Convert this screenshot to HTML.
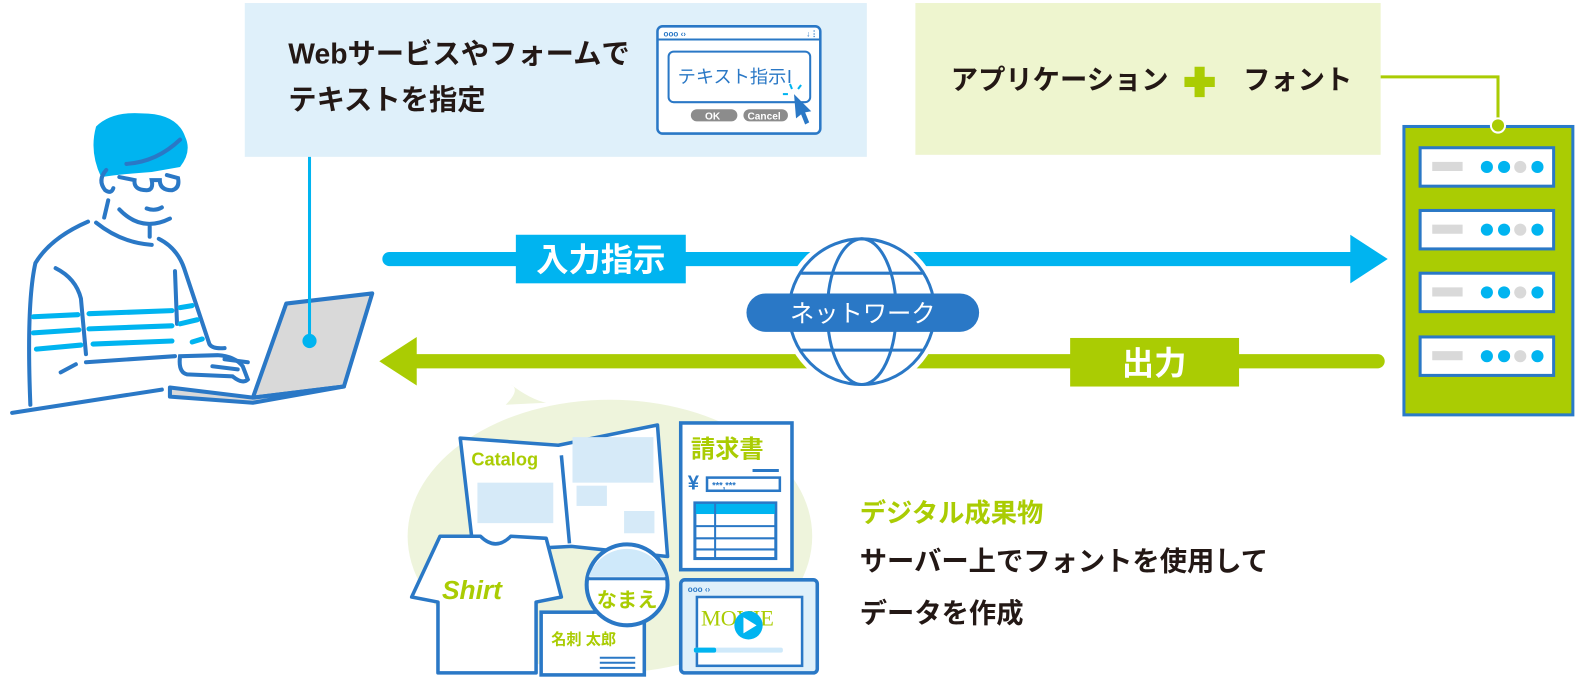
<!DOCTYPE html>
<html><head><meta charset="utf-8"><style>
body{margin:0;background:#fff;}
svg{display:block}
text{font-family:"Liberation Sans","Noto Sans CJK JP",sans-serif;font-weight:bold}
</style></head><body>
<svg width="1586" height="682" viewBox="0 0 1568 674" preserveAspectRatio="none" xmlns="http://www.w3.org/2000/svg">
<!-- top boxes -->
<rect x="242" y="3" width="615" height="152" fill="#dff0fa"/>
<text x="285" y="63" font-size="28" fill="#231815">Webサービスやフォームで</text>
<text x="285" y="108" font-size="28" fill="#231815">テキストを指定</text>
<!-- browser window -->
<rect x="650" y="26" width="161" height="106" rx="5" fill="#fff" stroke="#2a78c6" stroke-width="2.5"/>
<line x1="650" y1="39" x2="811" y2="39" stroke="#2a78c6" stroke-width="2"/>
<text x="656" y="36" font-size="8" fill="#2a78c6">ooo ‹›</text>
<text x="797" y="36" font-size="8" fill="#2a78c6">↓⋮</text>
<rect x="661" y="51" width="140" height="50" rx="5" fill="#fff" stroke="#2a78c6" stroke-width="2"/>
<text x="670" y="82" font-size="18" fill="#2a78c6" style="font-weight:normal">テキスト指示</text>
<text x="778" y="82" font-size="18" fill="#2a78c6" style="font-weight:normal">I</text>
<rect x="683" y="108" width="46" height="12" rx="6" fill="#8c8c8c"/>
<text x="697" y="118" font-size="10" fill="#fff">OK</text>
<rect x="735" y="108" width="44" height="12" rx="6" fill="#8c8c8c"/>
<text x="739" y="118" font-size="10" fill="#fff">Cancel</text>
<path d="M785 93 L802 110 L796 111 L800 121 L796 123 L792 113 L787 117 Z" fill="#2a78c6"/>
<g stroke="#00b4f0" stroke-width="2"><line x1="783" y1="88" x2="781" y2="83"/><line x1="789" y1="88" x2="792" y2="84"/><line x1="779" y1="93" x2="774" y2="93"/></g>

<rect x="905" y="3" width="460" height="150" fill="#eef5cf"/>
<text x="940" y="88" font-size="27" fill="#231815">アプリケーション</text>
<path d="M1181 66 h10 v10 h10 v10 h-10 v10 h-10 v-10 h-10 v-10 h10 z" fill="#aacc03"/>
<text x="1229" y="88" font-size="27" fill="#231815">フォント</text>
<polyline points="1365,76 1481,76 1481,122" fill="none" stroke="#aacc03" stroke-width="3"/>

<!-- server -->
<rect x="1388" y="125" width="167" height="285" fill="#aacc03" stroke="#2a7bc8" stroke-width="3"/>
<circle cx="1481" cy="124" r="7" fill="#aacc03" stroke="#fff" stroke-width="2"/>
<g>
<g id="slot"><rect x="1404" y="146" width="132" height="38" fill="#fff" stroke="#2a78c6" stroke-width="3"/>
<rect x="1416" y="160" width="30" height="9" fill="#d9d9d9"/>
<circle cx="1470" cy="165" r="6" fill="#00b4f0"/><circle cx="1487" cy="165" r="6" fill="#00b4f0"/><circle cx="1503" cy="165" r="6" fill="#d9d9d9"/><circle cx="1520" cy="165" r="6" fill="#00b4f0"/></g>
<use href="#slot" y="62"/><use href="#slot" y="124"/><use href="#slot" y="187"/>
</g>

<!-- arrows -->
<line x1="385" y1="256" x2="1340" y2="256" stroke="#00b4f0" stroke-width="14" stroke-linecap="round"/>
<polygon points="1335,232 1372,256 1335,280" fill="#00b4f0"/>
<rect x="510" y="232" width="168" height="48" fill="#00b4f0"/>
<text x="594" y="268" font-size="32" fill="#fff" text-anchor="middle">入力指示</text>

<line x1="1362" y1="357" x2="410" y2="357" stroke="#aacc03" stroke-width="14" stroke-linecap="round"/>
<polygon points="412,333 375,357 412,381" fill="#aacc03"/>
<rect x="1058" y="334" width="167" height="48" fill="#aacc03"/>
<text x="1141" y="370" font-size="32" fill="#fff" text-anchor="middle">出力</text>

<!-- globe -->
<circle cx="852" cy="308" r="78" fill="#fff"/>
<g fill="none" stroke="#2a78c6" stroke-width="3">
<circle cx="852" cy="308" r="72"/>
<ellipse cx="852" cy="308" rx="34" ry="72"/>
<line x1="792" y1="270" x2="912" y2="270"/><line x1="792" y1="346" x2="912" y2="346"/>
</g>
<rect x="738" y="290" width="230" height="38" rx="19" fill="#2a78c6"/>
<text x="853" y="318" font-size="24" fill="#fff" text-anchor="middle" style="font-weight:normal">ネットワーク</text>

<!-- person -->
<path d="M95 125 Q110 110 140 112 Q175 112 183 135 Q190 150 178 165 L150 170 Q120 172 100 175 Q88 150 95 125 Z" fill="#00b4f0"/>
<g fill="none" stroke="#2a78c6" stroke-width="4" stroke-linecap="round">
<path d="M125 162 Q155 160 178 138"/>
<path d="M105 168 Q96 178 104 188 Q110 192 112 186"/>
<path d="M118 175 L133 178 Q132 188 145 188 Q152 188 150 178 L158 178 Q158 188 170 188 Q178 186 176 176 L165 173"/>
<path d="M107 198 L103 215"/>
<path d="M118 207 Q140 230 168 216"/><path d="M148 224 L148 234"/>
<path d="M145 206 Q153 209 160 205"/>
<path d="M87 219 Q50 235 35 260 Q26 300 30 400"/>
<path d="M95 220 Q120 240 150 242"/>
<path d="M157 236 Q175 245 182 265 L207 340 Q210 345 222 344"/>
<path d="M55 265 Q75 275 80 295 L85 350"/>
<path d="M173 268 L175 320"/>
<path d="M85 358 L173 352"/><path d="M60 368 L75 360"/>
<path d="M12 408 L160 385"/>
<path d="M178 352 Q176 368 185 370 L230 372 Q240 380 245 375 L240 362 Q232 352 215 351 Z"/>
<path d="M210 362 L235 365 M222 355 L245 358"/>
</g>
<g stroke="#00b4f0" stroke-width="5" stroke-linecap="round">
<line x1="33" y1="313" x2="77" y2="311"/><line x1="88" y1="310" x2="170" y2="307"/><line x1="178" y1="304" x2="190" y2="302"/>
<line x1="33" y1="329" x2="78" y2="326"/><line x1="88" y1="325" x2="170" y2="322"/><line x1="178" y1="320" x2="195" y2="316"/>
<line x1="36" y1="345" x2="80" y2="341"/><line x1="92" y1="340" x2="170" y2="337"/><line x1="190" y1="338" x2="200" y2="335"/>
</g>
<path d="M283 300 L368 290 L340 382 L250 393 Z" fill="#d9d9d9" stroke="#2a78c6" stroke-width="4" stroke-linejoin="round"/>
<path d="M168 383 L250 393 L340 382 L250 398 L168 392 Z" fill="#d9d9d9" stroke="#2a78c6" stroke-width="4" stroke-linejoin="round"/>
<line x1="306" y1="155" x2="306" y2="335" stroke="#00b4f0" stroke-width="3"/>
<circle cx="306" cy="337" r="7" fill="#00b4f0"/>

<!-- bottom illustration -->
<ellipse cx="603" cy="530" rx="200" ry="135" fill="#eef4dc"/>
<path d="M500 400 Q515 385 505 380 Q525 395 540 398 Z" fill="#eef4dc"/>
<g stroke="#2a78c6" stroke-width="3.5" stroke-linejoin="round">
<path d="M455 433 L552 440 L650 420 L660 550 L565 540 L468 545 Z" fill="#fff"/>
<line x1="555" y1="450" x2="563" y2="537"/>
</g>
<rect x="472" y="477" width="75" height="40" fill="#d6eaf8"/>
<rect x="566" y="432" width="80" height="45" fill="#d6eaf8"/>
<rect x="570" y="480" width="30" height="20" fill="#d6eaf8"/>
<rect x="617" y="505" width="30" height="22" fill="#d6eaf8"/>
<text x="466" y="460" font-size="18" fill="#aacc03">Catalog</text>
<rect x="673" y="418" width="110" height="145" fill="#fff" stroke="#2a78c6" stroke-width="3.5"/>
<text x="683" y="452" font-size="24" fill="#aacc03">請求書</text>
<line x1="744" y1="465" x2="770" y2="465" stroke="#2a78c6" stroke-width="3"/>
<text x="680" y="484" font-size="20" fill="#2a78c6">¥</text>
<rect x="699" y="472" width="72" height="13" fill="#fff" stroke="#2a78c6" stroke-width="2.5"/>
<text x="704" y="483" font-size="9" fill="#2a78c6">***,***</text>
<rect x="687" y="497" width="80" height="55" fill="#fff" stroke="#2a78c6" stroke-width="3"/>
<rect x="688" y="498" width="78" height="10" fill="#00b4f0"/>
<g stroke="#2a78c6" stroke-width="2"><line x1="687" y1="520" x2="767" y2="520"/><line x1="687" y1="532" x2="767" y2="532"/><line x1="687" y1="543" x2="767" y2="543"/><line x1="707" y1="497" x2="707" y2="552"/></g>
<path d="M435 530 L475 530 Q490 545 505 530 L540 532 L555 590 L530 595 L530 665 L433 665 L433 595 L407 590 Z" fill="#fff" stroke="#2a78c6" stroke-width="3.5" stroke-linejoin="round"/>
<text x="437" y="592" font-size="26" font-style="italic" fill="#aacc03">Shirt</text>
<rect x="535" y="605" width="102" height="62" fill="#fff" stroke="#2a78c6" stroke-width="3.5"/>
<text x="545" y="637" font-size="15" fill="#aacc03">名刺 太郎</text>
<g stroke="#2a78c6" stroke-width="2"><line x1="593" y1="650" x2="628" y2="650"/><line x1="593" y1="655" x2="628" y2="655"/><line x1="593" y1="660" x2="628" y2="660"/></g>
<circle cx="620" cy="578" r="40" fill="#fff" stroke="#2a78c6" stroke-width="4"/>
<path d="M582 570 A40 40 0 0 1 658 570 Z" fill="#cfe9fa"/>
<line x1="582" y1="572" x2="658" y2="572" stroke="#2a78c6" stroke-width="3"/>
<text x="620" y="600" font-size="20" fill="#aacc03" text-anchor="middle">なまえ</text>
<rect x="673" y="573" width="135" height="92" rx="4" fill="#dff0fa" stroke="#2a78c6" stroke-width="3.5"/>
<rect x="689" y="590" width="104" height="68" fill="#fff" stroke="#2a78c6" stroke-width="2.5"/>
<text x="680" y="585" font-size="8" fill="#2a78c6">ooo ‹›</text>
<text x="693" y="618" font-size="22" fill="#aacc03" style="font-family:'Liberation Serif',serif;font-weight:normal">MOVIE</text>
<circle cx="740" cy="618" r="14" fill="#00b4f0"/>
<polygon points="735,610 748,618 735,626" fill="#fff"/>
<rect x="686" y="640" width="88" height="5" rx="2" fill="#cfe9fa"/>
<rect x="686" y="640" width="22" height="5" rx="2" fill="#00b4f0"/>

<!-- right texts -->
<text x="850" y="516" font-size="26" fill="#aacc03">デジタル成果物</text>
<text x="850" y="564" font-size="27" fill="#231815">サーバー上でフォントを使用して</text>
<text x="850" y="615" font-size="27" fill="#231815">データを作成</text>
</svg>
</body></html>
